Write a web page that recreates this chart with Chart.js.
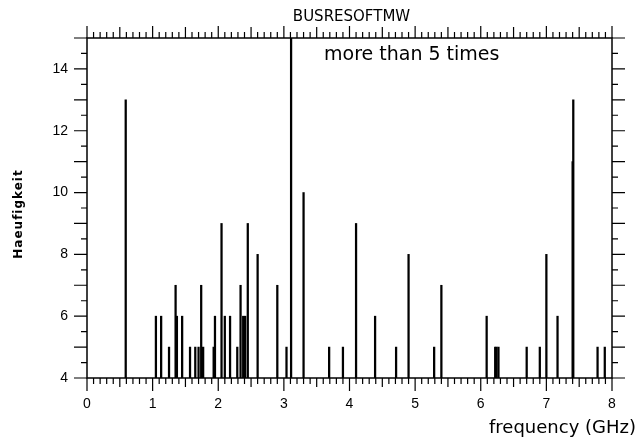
<!DOCTYPE html>
<html>
<head>
<meta charset="utf-8">
<script src="https://cdn.jsdelivr.net/npm/chart.js@4"></script>
<style>
  body { margin: 0; background: #fff; }
  #wrap { width: 638px; height: 441px; position: relative; }
</style>
</head>
<body>
<div id="wrap"><canvas id="myChart"></canvas></div>
<script>
'use strict';

// data
let freqs = [0.59, 1.05, 1.13, 1.25, 1.35, 1.37, 1.45, 1.57, 1.65, 1.70, 1.74, 1.77,
  1.93, 1.95, 2.05, 2.10, 2.18, 2.29, 2.34, 2.38, 2.41, 2.45, 2.60, 2.90, 3.04, 3.11,
  3.30, 3.69, 3.90, 4.10, 4.39, 4.71, 4.90, 5.29, 5.40, 6.09, 6.22, 6.24, 6.27, 6.70,
  6.90, 7.00, 7.17, 7.40, 7.41, 7.78, 7.89];
let counts = [13, 6, 6, 5, 7, 6, 6, 5, 5, 5, 7, 5,
  5, 6, 9, 6, 6, 5, 7, 6, 6, 9, 8, 7, 5, 15,
  10, 5, 5, 9, 6, 5, 8, 5, 7, 6, 5, 5, 5, 5,
  5, 8, 6, 11, 13, 5, 5];
let xTicks = [0, 1, 2, 3, 4, 5, 6, 7, 8];
let yTicks = [4, 6, 8, 10, 12, 14];

let baseCount = 4;
let bars = freqs.map((f, i) => ({ x: f, y: [baseCount, counts[i]] }));

// frame, tick marks and free texts
let framePlugin = {
  id: 'frame',
  afterDraw(chart) {
    let ctx = chart.ctx;
    let a = chart.chartArea;
    let xs = chart.scales.x;
    let ys = chart.scales.y;
    ctx.save();
    ctx.strokeStyle = '#000';
    ctx.lineWidth = 1.5;
    ctx.strokeRect(a.left, a.top, a.right - a.left, a.bottom - a.top);

    ctx.lineWidth = 1.2;
    ctx.beginPath();
    for (let i = 0; i <= 80; i++) {
      let px = xs.getPixelForValue(i / 10);
      let lenB = i % 10 === 0 ? 13 : (i % 5 === 0 ? 9 : 6);
      let lenT = i % 10 === 0 ? 12 : (i % 5 === 0 ? 11 : 6);
      ctx.moveTo(px, a.bottom);
      ctx.lineTo(px, a.bottom + lenB);
      ctx.moveTo(px, a.top);
      ctx.lineTo(px, a.top - lenT);
    }
    for (let j = 0; j <= 22; j++) {
      let py = ys.getPixelForValue(4 + j / 2);
      let len = j % 2 === 0 ? 13 : 6;
      ctx.moveTo(a.left, py);
      ctx.lineTo(a.left - len, py);
      ctx.moveTo(a.right, py);
      ctx.lineTo(a.right + len, py);
    }
    ctx.stroke();

    ctx.fillStyle = '#000';
    ctx.textBaseline = 'middle';

    ctx.font = '15px "DejaVu Sans"';
    ctx.textAlign = 'center';
    ctx.fillText('BUSRESOFTMW', (a.left + a.right) / 2 + 2, 17);

    ctx.font = '19px "DejaVu Sans"';
    ctx.textAlign = 'left';
    ctx.fillText('more than 5 times', 324, 55);

    ctx.font = '18px "DejaVu Sans"';
    ctx.textAlign = 'right';
    ctx.fillText('frequency (GHz)', 636, 428);

    ctx.translate(19, 214);
    ctx.rotate(-Math.PI / 2);
    ctx.font = 'bold 12px "DejaVu Sans"';
    ctx.letterSpacing = '1px';
    ctx.textAlign = 'center';
    ctx.fillText('Haeufigkeit', 0, 0);
    ctx.restore();
  }
};

let ctx = document.getElementById('myChart').getContext('2d');
let myChart = new Chart(ctx, { //eslint-disable-line
  type: 'bar',
  data: {
    datasets: [{
      label: 'Haeufigkeit',
      data: bars,
      backgroundColor: '#000',
      borderWidth: 0,
      barThickness: 1.6
    }]
  },
  options: {
    responsive: true,
    maintainAspectRatio: false,
    animation: false,
    layout: { padding: { left: 0, right: 26, top: 38, bottom: 0 } },
    plugins: {
      legend: { display: false },
      tooltip: { enabled: false }
    },
    scales: {
      x: {
        type: 'linear',
        min: 0,
        max: 8,
        offset: false,
        grid: { display: false, drawTicks: false },
        border: { display: false },
        afterBuildTicks(scale) {
          scale.ticks = xTicks.map(v => ({ value: v }));
        },
        ticks: {
          color: '#000',
          padding: 18,
          maxRotation: 0,
          font: { family: '"Liberation Sans"', size: 14 }
        },
        afterFit(scale) { scale.height = 63; }
      },
      y: {
        min: 4,
        max: 15,
        grid: { display: false, drawTicks: false },
        border: { display: false },
        afterBuildTicks(scale) {
          scale.ticks = yTicks.map(v => ({ value: v }));
        },
        ticks: {
          color: '#000',
          padding: 19,
          font: { family: '"Liberation Sans"', size: 14 }
        },
        afterFit(scale) { scale.width = 87; }
      }
    }
  },
  plugins: [framePlugin]
});
</script>
</body>
</html>
